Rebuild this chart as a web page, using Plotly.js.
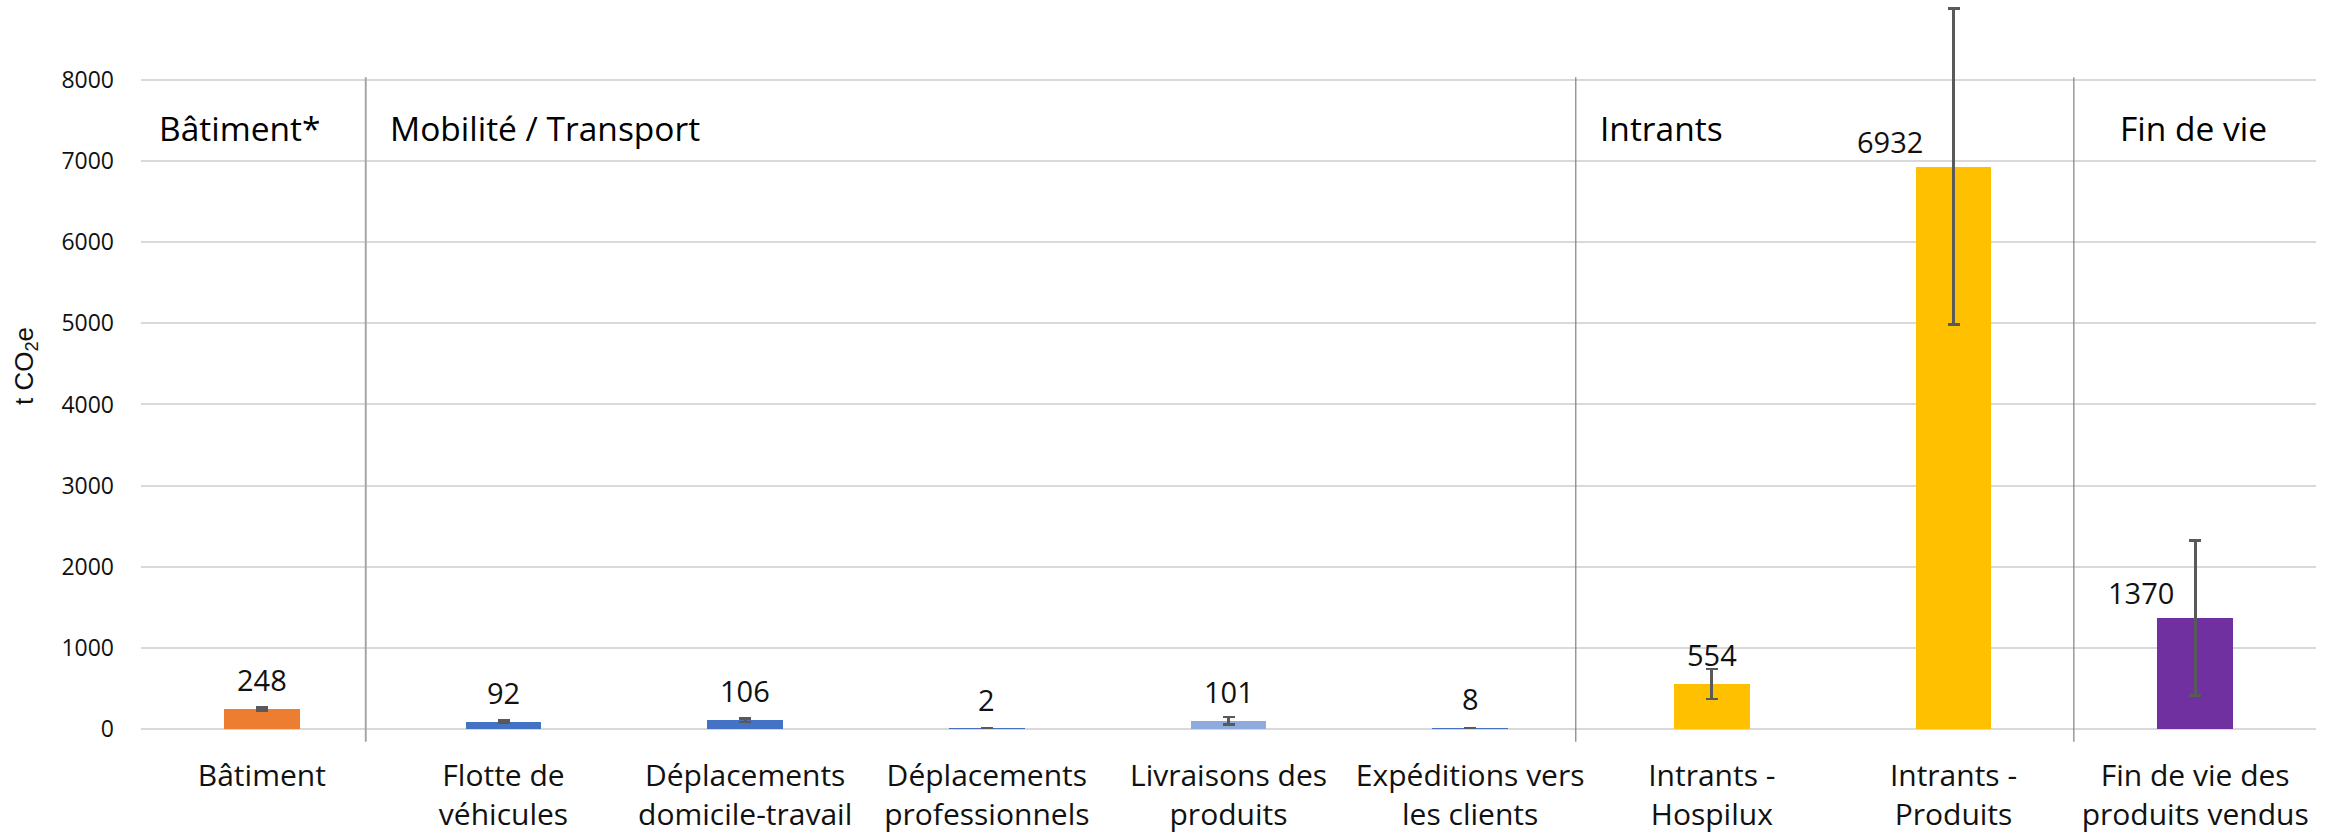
<!DOCTYPE html>
<html><head><meta charset="utf-8">
<script src="https://cdn.plot.ly/plotly-3.0.1.min.js"></script>
<style>html,body{margin:0;padding:0;background:#fff}#chart{width:2336px;height:834px}</style>
</head><body><div id="chart"></div>
<script>
// ---- data ----
const categories = ['Bâtiment', 'Flotte de véhicules', 'Déplacements domicile-travail', 'Déplacements professionnels', 'Livraisons des produits', 'Expéditions vers les clients', 'Intrants - Hospilux', 'Intrants - Produits', 'Fin de vie des produits vendus'];
const tickLabels = ['Bâtiment', 'Flotte de<br>véhicules', 'Déplacements<br>domicile-travail', 'Déplacements<br>professionnels', 'Livraisons des<br>produits', 'Expéditions vers<br>les clients', 'Intrants -<br>Hospilux', 'Intrants -<br>Produits', 'Fin de vie des<br>produits vendus'];
const values = [248, 92, 106, 2, 101, 8, 554, 6932, 1370];
const errorPlusMinus = [20, 12, 21, 2, 46, 4, 185, 1950, 953];
const sections = ['Bâtiment*', 'Mobilité / Transport', 'Intrants', 'Fin de vie'];

// ---- styles ----
const barColors = ['#ED7D31', '#4472C4', '#4472C4', '#4472C4', '#8FAADC', '#4472C4', '#FFC000', '#FFC000', '#7030A0'];
const labelSide = ['c', 'c', 'c', 'c', 'c', 'c', 'c', 'l', 'l']; // 'l' = label placed left of error bar
const labelDx = [0, 0, 0, 0, 0, 0, 0, -29, -19];
const FONT = '"Open Sans", sans-serif';
const TXT = '#111111';

const trace = {
  type: 'bar',
  x: categories,
  y: values,
  width: 0.312,
  marker: {color: barColors, line: {width: 0}},
  error_y: {type: 'data', array: errorPlusMinus, symmetric: true, visible: true, color: '#595959', thickness: 2.7, width: 6},
  hovertemplate: '%{x}: %{y}<extra></extra>'
};

const annotations = values.map((v, i) => ({
  x: categories[i], y: v, xref: 'x', yref: 'y',
  text: String(v), showarrow: false,
  xanchor: labelSide[i] === 'l' ? 'right' : 'center',
  xshift: labelDx[i],
  yanchor: 'bottom',
  yshift: labelSide[i] === 'l' ? 4 : 8,
  font: {family: FONT, size: 29, color: TXT}
}));

// section headings (paper positions)
const secPos = [
  {x: (157 - 141) / 2175, anchor: 'left'},
  {x: (388 - 141) / 2175, anchor: 'left'},
  {x: (1598 - 141) / 2175, anchor: 'left'},
  {x: (2193 - 141) / 2175, anchor: 'center'}
];
sections.forEach((s, i) => annotations.push({
  x: secPos[i].x, y: (729.5 - 128) / 726.5, xref: 'paper', yref: 'paper',
  text: s, showarrow: false, xanchor: secPos[i].anchor, yanchor: 'middle',
  font: {family: FONT, size: 33.5, color: '#000'}
}));

// vertical separators between sections (category units)
const sepX = [0.43, 5.437, 7.498];
const sepStyle = [{c: '#a6a6a6', w: 2}, {c: '#808080', w: 1.2}, {c: '#808080', w: 1.2}];
const shapes = sepX.map((x, i) => ({
  type: 'line', xref: 'x', yref: 'paper',
  x0: x, x1: x, y0: (729.5 - 742.3) / 726.5, y1: (729.5 - 77.3) / 726.5,
  line: {color: sepStyle[i].c, width: sepStyle[i].w}, layer: 'above'
}));

const layout = {
  width: 2336, height: 834,
  margin: {l: 141, r: 20, t: 3, b: 104.5, pad: 0},
  paper_bgcolor: '#fff', plot_bgcolor: '#fff',
  showlegend: false,
  font: {family: FONT, color: TXT},
  bargap: 0,
  xaxis: {
    type: 'category', tickvals: categories, ticktext: tickLabels,
    tickfont: {family: FONT, size: 30, color: TXT},
    showgrid: false, zeroline: false, showline: false, ticks: '',
    ticklabelstandoff: 26, range: [-0.5, 8.5]
  },
  yaxis: {
    range: [0, 8948], tick0: 0, dtick: 1000,
    showgrid: true, gridcolor: '#d9d9d9', gridwidth: 1.5,
    zeroline: true, zerolinecolor: '#d9d9d9', zerolinewidth: 1.5,
    showline: false, ticks: '',
    tickfont: {family: FONT, size: 23, color: TXT},
    ticklabelstandoff: 26,
    title: {text: 't CO<sub>2</sub>e', font: {family: '"Liberation Sans", Arial, sans-serif', size: 26, color: TXT}, standoff: 20}
  },
  annotations: annotations,
  shapes: shapes
};

Plotly.newPlot('chart', [trace], layout, {displayModeBar: false, responsive: false});
</script>
</body></html>
